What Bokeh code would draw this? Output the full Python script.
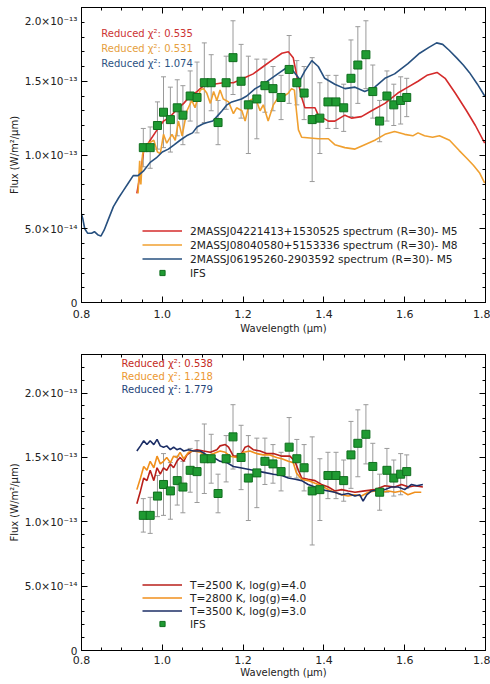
from bokeh.plotting import figure
from bokeh.models import (ColumnDataSource, Whisker, TeeHead, FixedTicker, PrintfTickFormatter,
                          LinearAxis, Range1d, Legend, LegendItem, Label)
from bokeh.layouts import column
from bokeh.embed import file_html
from bokeh.resources import INLINE

FONT = "DejaVu Sans"
TXT = "#222222"

# ---------------- data (flux in units of 1e-13 W/m^2/um) ----------------
ifs_wl = [0.953, 0.970, 0.988, 1.003, 1.020, 1.037, 1.051, 1.069, 1.086, 1.104, 1.121, 1.138,
          1.158, 1.175, 1.195, 1.213, 1.234, 1.254, 1.274, 1.294, 1.314, 1.333, 1.351, 1.371,
          1.390, 1.410, 1.430, 1.449, 1.467, 1.484, 1.504, 1.521, 1.538, 1.556, 1.573, 1.590, 1.605]
ifs_flux = [1.05, 1.05, 1.20, 1.29, 1.24, 1.32, 1.27, 1.40, 1.39, 1.49, 1.49, 1.22,
            1.49, 1.66, 1.50, 1.34, 1.38, 1.47, 1.45, 1.39, 1.58, 1.49, 1.42, 1.24,
            1.25, 1.36, 1.36, 1.32, 1.52, 1.61, 1.68, 1.43, 1.23, 1.40, 1.34, 1.37, 1.39]
ifs_err = [0.13, 0.14, 0.16, 0.24, 0.22, 0.19, 0.20, 0.17, 0.24, 0.27, 0.19, 0.15,
           0.18, 0.25, 0.25, 0.33, 0.27, 0.18, 0.15, 0.15, 0.23, 0.15, 0.18, 0.42,
           0.24, 0.18, 0.18, 0.16, 0.26, 0.26, 0.23, 0.18, 0.14, 0.17, 0.14, 0.16, 0.13]

# top panel: template spectra
j0422_wl = [0.937, 0.946, 0.954, 0.970, 0.987, 1.003, 1.020, 1.036, 1.053, 1.069, 1.086, 1.102,
            1.127, 1.151, 1.176, 1.201, 1.225, 1.250, 1.275, 1.296, 1.312, 1.324, 1.332, 1.345,
            1.353, 1.378, 1.386, 1.411, 1.427, 1.452, 1.468, 1.493, 1.518, 1.551, 1.583, 1.608,
            1.633, 1.655, 1.680, 1.700, 1.725, 1.753, 1.775, 1.798]
j0422_flux = [0.74, 0.88, 1.03, 1.10, 1.17, 1.23, 1.26, 1.31, 1.35, 1.40, 1.43, 1.47,
              1.48, 1.49, 1.49, 1.52, 1.55, 1.60, 1.65, 1.69, 1.70, 1.66, 1.55, 1.39,
              1.32, 1.32, 1.27, 1.23, 1.23, 1.27, 1.25, 1.26, 1.30, 1.35, 1.42, 1.46,
              1.50, 1.54, 1.56, 1.52, 1.42, 1.30, 1.20, 1.08]

j0804_wl = [0.940, 0.944, 0.947, 0.951, 0.956, 0.966, 0.979, 0.988, 0.995, 1.003, 1.011, 1.024,
            1.032, 1.040, 1.049, 1.061, 1.073, 1.081, 1.094, 1.102, 1.110, 1.119, 1.127, 1.135,
            1.143, 1.151, 1.164, 1.176, 1.184, 1.197, 1.205, 1.217, 1.230, 1.242, 1.250, 1.262,
            1.275, 1.287, 1.296, 1.312, 1.320, 1.327, 1.332, 1.337, 1.345, 1.386, 1.411, 1.427,
            1.452, 1.477, 1.501, 1.526, 1.551, 1.575, 1.600, 1.620, 1.633, 1.649, 1.669, 1.686,
            1.711, 1.735, 1.753, 1.770, 1.785, 1.798]
j0804_flux = [0.74, 0.96, 0.80, 1.00, 1.05, 1.08, 1.10, 1.02, 1.01, 1.14, 1.08, 1.14,
              1.10, 1.23, 1.13, 1.30, 1.37, 1.32, 1.44, 1.45, 1.42, 1.35, 1.43, 1.37,
              1.44, 1.38, 1.36, 1.28, 1.32, 1.30, 1.23, 1.37, 1.39, 1.30, 1.34, 1.23,
              1.34, 1.39, 1.39, 1.42, 1.45, 1.44, 1.30, 1.17, 1.12, 1.11, 1.11, 1.07,
              1.05, 1.04, 1.07, 1.10, 1.14, 1.16, 1.14, 1.13, 1.15, 1.13, 1.12, 1.13,
              1.10, 1.03, 0.98, 0.93, 0.88, 0.81]

j0619_wl = [0.800, 0.803, 0.808, 0.815, 0.825, 0.832, 0.840, 0.848, 0.856, 0.866, 0.879, 0.892,
            0.904, 0.916, 0.928, 0.940, 0.953, 0.970, 0.985, 1.000, 1.015, 1.030, 1.044, 1.060,
            1.075, 1.086, 1.100, 1.111, 1.125, 1.135, 1.148, 1.160, 1.172, 1.184, 1.196, 1.209,
            1.230, 1.250, 1.270, 1.291, 1.312, 1.324, 1.341, 1.353, 1.370, 1.386, 1.402, 1.427,
            1.452, 1.477, 1.501, 1.526, 1.551, 1.575, 1.608, 1.637, 1.660, 1.679, 1.694, 1.710,
            1.728, 1.745, 1.760, 1.780, 1.798]
j0619_flux = [0.60, 0.57, 0.50, 0.47, 0.47, 0.48, 0.46, 0.45, 0.49, 0.56, 0.65, 0.71,
              0.76, 0.81, 0.86, 0.86, 0.89, 0.95, 0.98, 1.02, 1.04, 1.07, 1.10, 1.13,
              1.15, 1.19, 1.21, 1.22, 1.23, 1.26, 1.30, 1.34, 1.36, 1.37, 1.38, 1.40,
              1.45, 1.48, 1.52, 1.56, 1.60, 1.57, 1.51, 1.57, 1.64, 1.60, 1.52, 1.48,
              1.45, 1.46, 1.43, 1.46, 1.52, 1.55, 1.62, 1.69, 1.73, 1.76, 1.75, 1.71,
              1.66, 1.61, 1.56, 1.48, 1.40]

# bottom panel: atmosphere models
t2500_wl = [0.937, 0.946, 0.954, 0.962, 0.970, 0.979, 0.987, 0.995, 1.003, 1.011, 1.020, 1.028,
            1.036, 1.044, 1.053, 1.061, 1.073, 1.086, 1.102, 1.119, 1.135, 1.143, 1.156, 1.164,
            1.176, 1.193, 1.205, 1.213, 1.225, 1.242, 1.258, 1.275, 1.296, 1.316, 1.328, 1.337,
            1.345, 1.361, 1.378, 1.394, 1.411, 1.427, 1.444, 1.460, 1.477, 1.501, 1.526, 1.551,
            1.575, 1.592, 1.610, 1.625, 1.645]
t2500_flux = [1.14, 1.24, 1.34, 1.32, 1.40, 1.32, 1.42, 1.37, 1.42, 1.40, 1.45, 1.42,
              1.47, 1.50, 1.47, 1.52, 1.55, 1.56, 1.55, 1.54, 1.56, 1.59, 1.60, 1.58,
              1.51, 1.51, 1.58, 1.59, 1.56, 1.55, 1.53, 1.53, 1.51, 1.51, 1.47, 1.40,
              1.34, 1.33, 1.32, 1.29, 1.27, 1.24, 1.25, 1.24, 1.23, 1.24, 1.25, 1.28,
              1.27, 1.29, 1.27, 1.28, 1.27]

t2800_wl = [0.937, 0.946, 0.954, 0.962, 0.970, 0.979, 0.987, 0.995, 1.003, 1.011, 1.020, 1.028,
            1.036, 1.044, 1.053, 1.065, 1.077, 1.094, 1.110, 1.127, 1.143, 1.156, 1.168, 1.184,
            1.201, 1.217, 1.234, 1.250, 1.266, 1.283, 1.296, 1.312, 1.324, 1.332, 1.345, 1.361,
            1.378, 1.394, 1.411, 1.427, 1.444, 1.460, 1.477, 1.493, 1.510, 1.526, 1.543, 1.560,
            1.576, 1.592, 1.608, 1.625, 1.641]
t2800_flux = [1.25, 1.34, 1.43, 1.40, 1.47, 1.42, 1.51, 1.45, 1.47, 1.50, 1.46, 1.51,
              1.50, 1.54, 1.49, 1.54, 1.55, 1.54, 1.51, 1.53, 1.55, 1.54, 1.51, 1.50,
              1.54, 1.55, 1.53, 1.52, 1.52, 1.50, 1.49, 1.47, 1.46, 1.38, 1.33, 1.32,
              1.30, 1.28, 1.25, 1.23, 1.21, 1.20, 1.21, 1.20, 1.23, 1.24, 1.23, 1.24,
              1.23, 1.24, 1.21, 1.23, 1.23]

t3500_wl = [0.937, 0.946, 0.954, 0.962, 0.970, 0.979, 0.987, 0.995, 1.003, 1.011, 1.020, 1.028,
            1.036, 1.044, 1.053, 1.065, 1.077, 1.094, 1.110, 1.127, 1.143, 1.160, 1.176, 1.193,
            1.209, 1.225, 1.242, 1.258, 1.275, 1.296, 1.312, 1.329, 1.345, 1.361, 1.378, 1.394,
            1.411, 1.427, 1.444, 1.460, 1.477, 1.489, 1.497, 1.506, 1.518, 1.535, 1.551, 1.567,
            1.584, 1.600, 1.617, 1.630, 1.645]
t3500_flux = [1.55, 1.59, 1.63, 1.60, 1.63, 1.60, 1.64, 1.59, 1.58, 1.59, 1.56, 1.58,
              1.56, 1.57, 1.55, 1.56, 1.55, 1.55, 1.52, 1.50, 1.47, 1.46, 1.43, 1.42,
              1.41, 1.40, 1.39, 1.38, 1.37, 1.36, 1.34, 1.33, 1.32, 1.29, 1.27, 1.25,
              1.24, 1.23, 1.21, 1.22, 1.20, 1.21, 1.16, 1.21, 1.24, 1.25, 1.25, 1.27,
              1.27, 1.25, 1.29, 1.28, 1.29]

top_names = ["2MASSJ04221413+1530525 spectrum (R=30)- M5",
             "2MASSJ08040580+5153336 spectrum (R=30)- M8",
             "2MASSJ06195260-2903592 spectrum (R=30)- M5"]
top_chi = ["0.535", "0.531", "1.074"]
bot_names = ["T=2500 K, log(g)=4.0", "T=2800 K, log(g)=4.0", "T=3500 K, log(g)=3.0"]
bot_chi = ["0.538", "1.218", "1.779"]

x_major = [0.8, 1.0, 1.2, 1.4, 1.6, 1.8]
y_major = [0.0, 0.5, 1.0, 1.5, 2.0]
y_labels = ["0", "5.0×10⁻¹⁴", "1.0×10⁻¹³", "1.5×10⁻¹³", "2.0×10⁻¹³"]

TOP_COLORS = ["#d42b2b", "#f0a030", "#27507f"]
BOT_COLORS = ["#b81f1a", "#f08f1c", "#1c2e66"]
CHI_TOP = ["#cc3333", "#e6a040", "#2c5282"]
CHI_BOT = ["#c42a22", "#ec9830", "#26457a"]
GREEN = "#1f9a32"
GREEN_EDGE = "#106e1e"
BAR = "#9a9a9a"


def make_panel(ymax, height, min_top, min_bottom, lines, colors, names, chis,
               chi_colors, chi_pos, legend_loc, leg_h, leg_sp, push_top_label,
               label_standoff, axis_standoff):
    p = figure(width=490, height=height, output_backend="svg", toolbar_location=None,
               min_border_left=81, min_border_right=5, min_border_top=min_top,
               min_border_bottom=min_bottom,
               x_range=Range1d(0.8, 1.8), y_range=Range1d(0.0, ymax))
    p.background_fill_color = "white"
    p.border_fill_color = "white"
    p.outline_line_color = "black"
    p.grid.visible = False

    x_minor = [round(0.8 + 0.05 * i, 3) for i in range(21) if i % 4]
    n_y = int(round(ymax * 10))
    y_minor = [round(0.1 * i, 3) for i in range(n_y + 1) if i % 5]
    ticks_y = list(y_major)
    overrides = {t: s for t, s in zip(y_major, y_labels)}
    if push_top_label:
        overrides[2.0] = "\n" + y_labels[-1]
    else:
        # blank two-line label on the top edge so both panels lay out their axis alike
        ticks_y.append(ymax)
        overrides[ymax] = "\n"
    xt = FixedTicker(ticks=x_major, minor_ticks=x_minor)
    yt = FixedTicker(ticks=ticks_y, minor_ticks=y_minor)

    def style_axis(ax):
        ax.major_tick_in = 6
        ax.major_tick_out = 0
        ax.minor_tick_in = 3
        ax.minor_tick_out = 0
        ax.axis_line_color = "black"
        ax.major_tick_line_color = "black"
        ax.minor_tick_line_color = "black"
        ax.major_label_text_font = FONT
        ax.major_label_text_font_size = "11px"
        ax.major_label_text_color = TXT
        ax.axis_label_text_font = FONT
        ax.axis_label_text_font_size = "10px"
        ax.axis_label_text_font_style = "normal"
        ax.axis_label_text_color = TXT

    xa = p.xaxis[0]
    xa.ticker = xt
    xa.formatter = PrintfTickFormatter(format="%.1f")
    xa.axis_label = "Wavelength (μm)"
    style_axis(xa)
    xa.major_label_standoff = label_standoff
    xa.axis_label_standoff = axis_standoff

    ya = p.yaxis[0]
    ya.ticker = yt
    ya.major_label_overrides = overrides
    ya.axis_label = "Flux (W/m²/μm)"
    style_axis(ya)
    ya.major_label_text_font_size = "10.5px"
    ya.major_label_standoff = 4
    ya.axis_label_standoff = 2

    for loc, tk, ticks in (("above", xt, x_major), ("right", yt, ticks_y)):
        ax = LinearAxis(ticker=tk)
        style_axis(ax)
        ax.major_label_overrides = {t: "" for t in ticks}
        ax.major_label_standoff = 0
        ax.axis_label_standoff = 0
        p.add_layout(ax, loc)

    # error bars
    src = ColumnDataSource(dict(x=ifs_wl, y=ifs_flux,
                                lo=[f - e for f, e in zip(ifs_flux, ifs_err)],
                                hi=[f + e for f, e in zip(ifs_flux, ifs_err)]))
    wh = Whisker(source=src, base="x", lower="lo", upper="hi", line_color=BAR,
                 line_width=1,
                 lower_head=TeeHead(size=5, line_color=BAR, line_width=1),
                 upper_head=TeeHead(size=5, line_color=BAR, line_width=1))
    p.add_layout(wh)

    items = []
    for (wl, fl), c, nm in zip(lines, colors, names):
        r = p.line(wl, fl, line_color=c, line_width=1.6)
        items.append(LegendItem(label=nm, renderers=[r]))
    sq = p.scatter("x", "y", source=src, marker="square", size=8, fill_color=GREEN,
                   line_color=GREEN_EDGE, line_width=1)
    items.append(LegendItem(label="IFS", renderers=[sq]))

    for (cx, cy), chi, cc in zip(chi_pos, chis, chi_colors):
        p.add_layout(Label(x=cx, y=cy, text="Reduced χ²: " + chi, text_font=FONT,
                           text_font_size="10px", text_color=cc, text_baseline="middle"))

    leg = Legend(items=items, location=legend_loc, glyph_width=40, glyph_height=leg_h,
                 label_height=leg_h, spacing=leg_sp, label_standoff=8, padding=0, margin=0,
                 border_line_alpha=0, background_fill_alpha=0,
                 label_text_font=FONT, label_text_font_size="10.6px", label_text_color=TXT)
    p.add_layout(leg, "center")
    return p


p1 = make_panel(2.0, 340, 7, 38,
                [(j0422_wl, j0422_flux), (j0804_wl, j0804_flux), (j0619_wl, j0619_flux)],
                TOP_COLORS, top_names, top_chi, CHI_TOP,
                [(0.849, 1.824), (0.849, 1.722), (0.849, 1.620)],
                (61, 23), 13, 1, True, 7, 2)

p2 = make_panel(2.3, 342, 14, 32,
                [(t2500_wl, t2500_flux), (t2800_wl, t2800_flux), (t3500_wl, t3500_flux)],
                BOT_COLORS, bot_names, bot_chi, CHI_BOT,
                [(0.899, 2.230), (0.899, 2.129), (0.899, 2.028)],
                (61, 20), 13, 0, False, 5, 0)

layout = column(p1, p2, spacing=0)
open("out.html", "w").write(file_html(layout, INLINE))
